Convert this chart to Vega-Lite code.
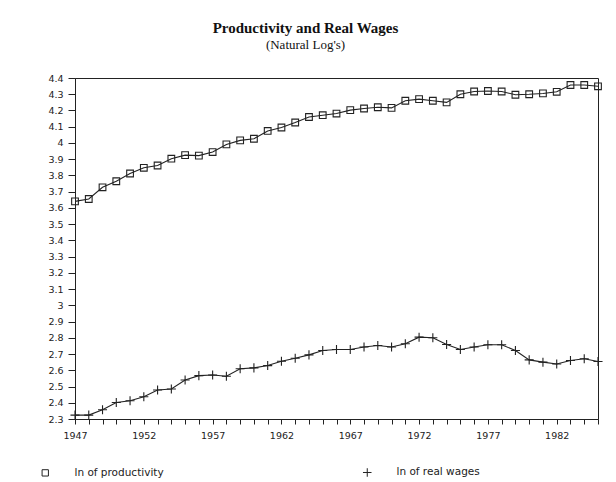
{
  "$schema": "https://vega.github.io/schema/vega-lite/v6.json",
  "width": 523,
  "height": 341,
  "autosize": {"type": "none"},
  "padding": {"left": 75, "top": 78, "right": 18, "bottom": 63},
  "background": "white",
  "title": {
    "text": "Productivity and Real Wages",
    "subtitle": "(Natural Log's)",
    "font": "Liberation Serif",
    "fontSize": 15,
    "fontWeight": "bold",
    "color": "#111",
    "subtitleFont": "Liberation Serif",
    "subtitleFontSize": 13,
    "subtitleColor": "#111",
    "subtitlePadding": 3,
    "anchor": "middle",
    "dx": -31,
    "offset": 21
  },
  "config": {
    "view": {"stroke": "#222", "strokeWidth": 1},
    "axis": {
      "labelFont": "DejaVu Sans",
      "labelFontSize": 9.5,
      "labelColor": "#222",
      "domainColor": "#222",
      "tickColor": "#222",
      "grid": false,
      "title": null
    }
  },
  "data": {
    "values": [
      {"year": 1947, "series": "ln of productivity", "value": 3.64},
      {"year": 1948, "series": "ln of productivity", "value": 3.655},
      {"year": 1949, "series": "ln of productivity", "value": 3.727},
      {"year": 1950, "series": "ln of productivity", "value": 3.764},
      {"year": 1951, "series": "ln of productivity", "value": 3.812},
      {"year": 1952, "series": "ln of productivity", "value": 3.847},
      {"year": 1953, "series": "ln of productivity", "value": 3.861},
      {"year": 1954, "series": "ln of productivity", "value": 3.903},
      {"year": 1955, "series": "ln of productivity", "value": 3.925},
      {"year": 1956, "series": "ln of productivity", "value": 3.922},
      {"year": 1957, "series": "ln of productivity", "value": 3.944},
      {"year": 1958, "series": "ln of productivity", "value": 3.991},
      {"year": 1959, "series": "ln of productivity", "value": 4.016},
      {"year": 1960, "series": "ln of productivity", "value": 4.026},
      {"year": 1961, "series": "ln of productivity", "value": 4.074},
      {"year": 1962, "series": "ln of productivity", "value": 4.095},
      {"year": 1963, "series": "ln of productivity", "value": 4.126},
      {"year": 1964, "series": "ln of productivity", "value": 4.16},
      {"year": 1965, "series": "ln of productivity", "value": 4.171},
      {"year": 1966, "series": "ln of productivity", "value": 4.181},
      {"year": 1967, "series": "ln of productivity", "value": 4.202},
      {"year": 1968, "series": "ln of productivity", "value": 4.212},
      {"year": 1969, "series": "ln of productivity", "value": 4.22},
      {"year": 1970, "series": "ln of productivity", "value": 4.216},
      {"year": 1971, "series": "ln of productivity", "value": 4.26},
      {"year": 1972, "series": "ln of productivity", "value": 4.27},
      {"year": 1973, "series": "ln of productivity", "value": 4.26},
      {"year": 1974, "series": "ln of productivity", "value": 4.25},
      {"year": 1975, "series": "ln of productivity", "value": 4.30},
      {"year": 1976, "series": "ln of productivity", "value": 4.317},
      {"year": 1977, "series": "ln of productivity", "value": 4.32},
      {"year": 1978, "series": "ln of productivity", "value": 4.317},
      {"year": 1979, "series": "ln of productivity", "value": 4.297},
      {"year": 1980, "series": "ln of productivity", "value": 4.30},
      {"year": 1981, "series": "ln of productivity", "value": 4.305},
      {"year": 1982, "series": "ln of productivity", "value": 4.315},
      {"year": 1983, "series": "ln of productivity", "value": 4.357},
      {"year": 1984, "series": "ln of productivity", "value": 4.357},
      {"year": 1985, "series": "ln of productivity", "value": 4.349},
      {"year": 1947, "series": "ln of real wages", "value": 2.324},
      {"year": 1948, "series": "ln of real wages", "value": 2.324},
      {"year": 1949, "series": "ln of real wages", "value": 2.357},
      {"year": 1950, "series": "ln of real wages", "value": 2.402},
      {"year": 1951, "series": "ln of real wages", "value": 2.412},
      {"year": 1952, "series": "ln of real wages", "value": 2.437},
      {"year": 1953, "series": "ln of real wages", "value": 2.479},
      {"year": 1954, "series": "ln of real wages", "value": 2.485},
      {"year": 1955, "series": "ln of real wages", "value": 2.54},
      {"year": 1956, "series": "ln of real wages", "value": 2.567},
      {"year": 1957, "series": "ln of real wages", "value": 2.571},
      {"year": 1958, "series": "ln of real wages", "value": 2.563},
      {"year": 1959, "series": "ln of real wages", "value": 2.609},
      {"year": 1960, "series": "ln of real wages", "value": 2.615},
      {"year": 1961, "series": "ln of real wages", "value": 2.629},
      {"year": 1962, "series": "ln of real wages", "value": 2.656},
      {"year": 1963, "series": "ln of real wages", "value": 2.674},
      {"year": 1964, "series": "ln of real wages", "value": 2.695},
      {"year": 1965, "series": "ln of real wages", "value": 2.722},
      {"year": 1966, "series": "ln of real wages", "value": 2.728},
      {"year": 1967, "series": "ln of real wages", "value": 2.728},
      {"year": 1968, "series": "ln of real wages", "value": 2.743},
      {"year": 1969, "series": "ln of real wages", "value": 2.753},
      {"year": 1970, "series": "ln of real wages", "value": 2.743},
      {"year": 1971, "series": "ln of real wages", "value": 2.763},
      {"year": 1972, "series": "ln of real wages", "value": 2.804},
      {"year": 1973, "series": "ln of real wages", "value": 2.80},
      {"year": 1974, "series": "ln of real wages", "value": 2.759},
      {"year": 1975, "series": "ln of real wages", "value": 2.728},
      {"year": 1976, "series": "ln of real wages", "value": 2.743},
      {"year": 1977, "series": "ln of real wages", "value": 2.757},
      {"year": 1978, "series": "ln of real wages", "value": 2.757},
      {"year": 1979, "series": "ln of real wages", "value": 2.722},
      {"year": 1980, "series": "ln of real wages", "value": 2.664},
      {"year": 1981, "series": "ln of real wages", "value": 2.650},
      {"year": 1982, "series": "ln of real wages", "value": 2.639},
      {"year": 1983, "series": "ln of real wages", "value": 2.66},
      {"year": 1984, "series": "ln of real wages", "value": 2.671},
      {"year": 1985, "series": "ln of real wages", "value": 2.654}
    ]
  },
  "encoding": {
    "x": {
      "field": "year",
      "type": "quantitative",
      "scale": {"domain": [1947, 1985], "nice": false, "zero": false},
      "axis": {
        "values": [1947,1948,1949,1950,1951,1952,1953,1954,1955,1956,1957,1958,1959,1960,1961,1962,1963,1964,1965,1966,1967,1968,1969,1970,1971,1972,1973,1974,1975,1976,1977,1978,1979,1980,1981,1982,1983,1984,1985],
        "labelExpr": "(datum.value - 1947) % 5 == 0 ? toString(datum.value) : ''",
        "tickSize": 5,
        "labelPadding": 6,
        "labelFlush": false,
        "labelOverlap": false
      }
    },
    "y": {
      "field": "value",
      "type": "quantitative",
      "scale": {"domain": [2.3, 4.4], "nice": false, "zero": false},
      "axis": {
        "values": [2.3,2.4,2.5,2.6,2.7,2.8,2.9,3.0,3.1,3.2,3.3,3.4,3.5,3.6,3.7,3.8,3.9,4.0,4.1,4.2,4.3,4.4],
        "labelExpr": "toString(round(datum.value * 10) / 10)",
        "tickSize": 7,
        "labelPadding": 5,
        "labelOverlap": false
      }
    }
  },
  "layer": [
    {
      "mark": {"type": "line", "color": "#222", "strokeWidth": 1.1},
      "encoding": {"detail": {"field": "series"}}
    },
    {
      "mark": {"type": "point", "filled": false, "color": "#222", "strokeWidth": 1.1, "opacity": 1},
      "encoding": {
        "shape": {
          "field": "series",
          "type": "nominal",
          "scale": {"domain": ["ln of productivity", "ln of real wages"], "range": ["square", "M-1.35,0H1.35M0,-1.35V1.35"]},
          "legend": {
            "title": null,
            "orient": "none",
            "legendX": -35,
            "legendY": 389,
            "direction": "horizontal",
            "columnPadding": 196,
            "labelFont": "DejaVu Sans",
            "labelFontSize": 10.5,
            "labelColor": "#222",
            "labelOffset": 24,
            "symbolSize": 40,
            "symbolStrokeColor": "#222",
            "symbolStrokeWidth": 1
          }
        },
        "size": {"value": 45}
      }
    }
  ]
}
